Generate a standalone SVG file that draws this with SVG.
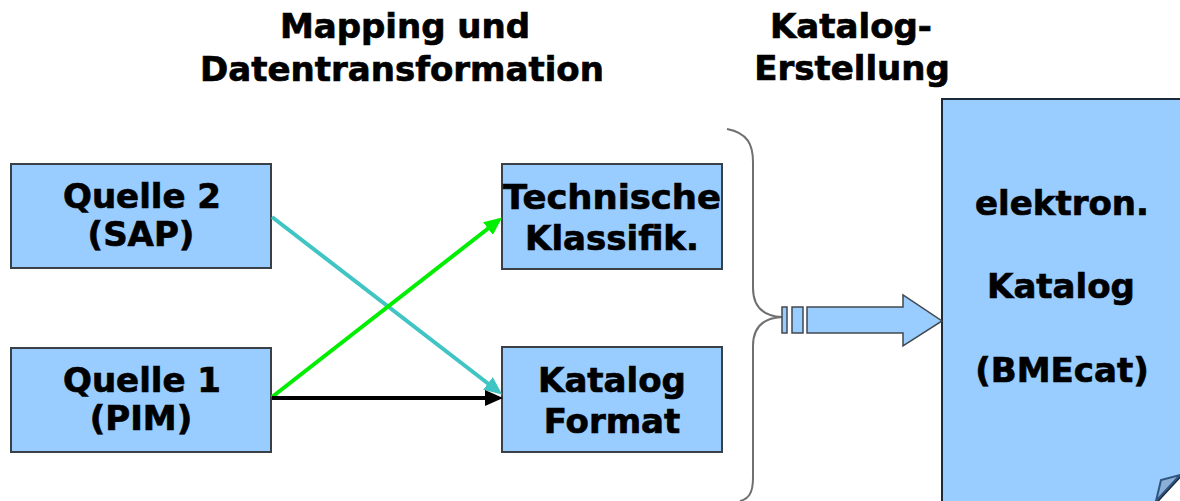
<svg xmlns="http://www.w3.org/2000/svg" width="1180" height="501" viewBox="0 0 1180 501">
<style>
text{font-family:"DejaVu Sans","Verdana",sans-serif;font-weight:bold;fill:#000;stroke:#000;stroke-width:0.7;text-anchor:middle;font-size:34px}
.box{fill:#99ccff;stroke:#3a4048;stroke-width:2}
.ln{stroke-width:4;fill:none}
</style>
<defs>
<marker id="ac" markerWidth="4.5" markerHeight="4" refX="3.5" refY="2" orient="auto" markerUnits="strokeWidth"><path d="M0,0 L4.5,2 L0,4 Z" fill="#40c4c4"/></marker>
<marker id="ag" markerWidth="4.5" markerHeight="4" refX="3.5" refY="2" orient="auto" markerUnits="strokeWidth"><path d="M0,0 L4.5,2 L0,4 Z" fill="#00ee00"/></marker>
<marker id="ak" markerWidth="4.5" markerHeight="4" refX="3.5" refY="2" orient="auto" markerUnits="strokeWidth"><path d="M0,0 L4.5,2 L0,4 Z" fill="#000"/></marker>
</defs>
<g id="titles">
<text x="405" y="38">Mapping und</text>
<text x="402" y="81">Datentransformation</text>
<text x="851" y="38">Katalog-</text>
<text x="852" y="80">Erstellung</text>
</g>
<g id="quelle2"><rect class="box" x="11" y="164" width="260" height="104"/><text x="142" y="208">Quelle 2</text><text x="141" y="246">(SAP)</text></g>
<g id="quelle1"><rect class="box" x="11" y="348" width="260" height="104"/><text x="142" y="392">Quelle 1</text><text x="141" y="430">(PIM)</text></g>
<g id="technische"><rect class="box" x="502" y="164" width="220" height="105"/><text x="612" y="209" textLength="218" lengthAdjust="spacingAndGlyphs">Technische</text><text x="612" y="250">Klassifik.</text></g>
<g id="katalogformat"><rect class="box" x="502" y="347" width="220" height="105"/><text x="612" y="392">Katalog</text><text x="612" y="433">Format</text></g>
<g id="katalog">
<path d="M942,99 H1182 V475 L1156,503 H942 Z" fill="#99ccff" stroke="#1a2a3a" stroke-width="2"/>
<path d="M1156,501 L1161,480 L1180,475 Z" fill="#8ab0d8" stroke="#2f5580" stroke-width="2"/>
<text x="1062" y="215">elektron.</text>
<text x="1061" y="298">Katalog</text>
<text x="1062" y="382">(BMEcat)</text>
</g>
<g id="connectors">
<line class="ln" x1="272" y1="217" x2="499" y2="392" stroke="#40c4c4" marker-end="url(#ac)"/>
<line class="ln" x1="272" y1="397" x2="499" y2="220" stroke="#00ee00" marker-end="url(#ag)"/>
<line class="ln" x1="272" y1="398" x2="499" y2="398" stroke="#000" marker-end="url(#ak)"/>
<path d="M727,129 C748,133 753,145 753,162 V288 C753,306 763,316 782,317 C763,318 753,328 753,346 V478 C753,494 748,499 740,501" fill="none" stroke="#707070" stroke-width="2"/>
<g fill="#99ccff" stroke="#404850" stroke-width="1.5">
<rect x="782" y="307" width="5" height="26"/>
<rect x="792" y="307" width="11" height="26"/>
<path d="M807,307 H903 V295 L942,321 L903,346 V333 H807 Z"/>
</g>
</g>
</svg>
